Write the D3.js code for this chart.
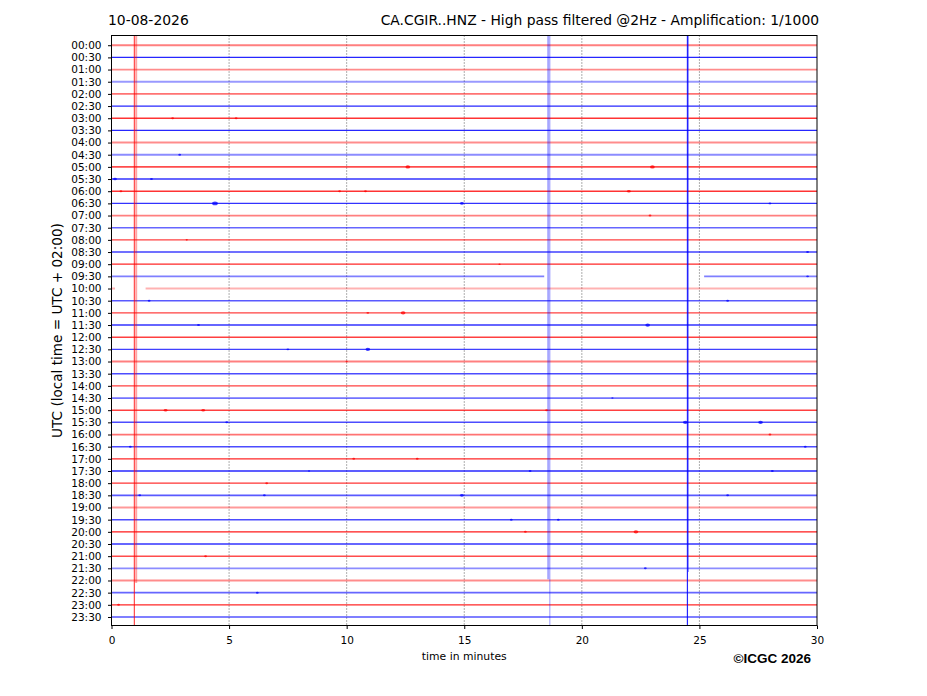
<!DOCTYPE html>
<html>
<head>
    <title>Helicorder CA.CGIR..HNZ</title>
    <script src="https://d3js.org/d3.v7.min.js"></script>
    <style>
        body {
            margin: 0;
            background: #fff;
        }
        svg text {
            font-family: "DejaVu Sans", sans-serif;
            fill: #000;
        }
        .copy {
            font-family: "Liberation Sans", Arial, sans-serif !important;
            font-weight: bold;
        }
    </style>
</head>
<body>
    <div id="chart"></div>

    <script>
        // Row labels (UTC start of each 30 min trace)
        const rowLabels = [
            "00:00", "00:30", "01:00", "01:30", "02:00", "02:30", "03:00", "03:30",
            "04:00", "04:30", "05:00", "05:30", "06:00", "06:30", "07:00", "07:30",
            "08:00", "08:30", "09:00", "09:30", "10:00", "10:30", "11:00", "11:30",
            "12:00", "12:30", "13:00", "13:30", "14:00", "14:30", "15:00", "15:30",
            "16:00", "16:30", "17:00", "17:30", "18:00", "18:30", "19:00", "19:30",
            "20:00", "20:30", "21:00", "21:30", "22:00", "22:30", "23:00", "23:30"
        ];

        // How strong each trace looks (noise level)
        const rowStrength = [
            0.5, 0.85, 0.45, 0.4, 0.55, 0.85, 0.8, 0.85,
            0.45, 0.45, 0.7, 0.8, 0.8, 0.8, 0.5, 0.6,
            0.75, 0.75, 0.85, 0.5, 0.3, 0.65, 0.75, 0.8,
            0.75, 0.75, 0.5, 0.7, 0.75, 0.55, 0.75, 0.7,
            0.55, 0.7, 0.85, 0.85, 0.8, 0.65, 0.4, 0.7,
            0.9, 0.8, 0.7, 0.45, 0.45, 0.6, 0.85, 0.5
        ];

        // Data gaps: [row, from minute, to minute]
        const gaps = [
            [19, 18.4, 25.2],
            [20, 0.15, 1.45]
        ];

        // Small events on traces: [row, minute, size]
        const events = [
            [6, 2.6, 1.5], [6, 5.3, 1.5],
            [9, 2.9, 1.5],
            [10, 12.6, 2.5], [10, 23.0, 2.5],
            [11, 0.15, 2], [11, 1.7, 1.5],
            [12, 0.4, 1.5], [12, 9.7, 1.5], [12, 10.8, 1.5], [12, 22.0, 2],
            [13, 4.4, 3], [13, 14.9, 2], [13, 28.0, 1.5],
            [14, 22.9, 1.5],
            [16, 3.2, 1.2],
            [17, 29.6, 1.5],
            [18, 16.5, 1.2],
            [19, 29.6, 1.5],
            [21, 1.6, 1.5], [21, 26.2, 1.5],
            [22, 10.9, 1.5], [22, 12.4, 2.5],
            [23, 3.7, 1.5], [23, 22.8, 2.5],
            [25, 7.5, 1.5], [25, 10.9, 2.5],
            [26, 10.0, 1.2],
            [29, 21.3, 1.2],
            [30, 2.3, 2], [30, 3.9, 2], [30, 18.5, 1.5],
            [31, 4.9, 1.5], [31, 24.4, 2.5], [31, 27.6, 2.5],
            [32, 28.0, 1.5],
            [33, 0.8, 1.5], [33, 29.5, 1.5],
            [34, 10.3, 1.5], [34, 13.0, 1.5],
            [35, 8.4, 1.2], [35, 17.8, 1.5], [35, 28.1, 1.5],
            [36, 6.6, 1.5],
            [37, 1.2, 1.5], [37, 6.5, 1.5], [37, 14.9, 2], [37, 26.2, 1.5],
            [39, 17.0, 1.5], [39, 19.0, 1.5],
            [40, 17.6, 1.5], [40, 22.3, 2.5],
            [42, 4.0, 1.5],
            [43, 22.7, 1.5],
            [45, 6.2, 1.5],
            [46, 0.3, 1.5]
        ];

        // Large events that swing across many traces:
        // [minute, colour index, from row, to row, width, opacity]
        const bigSwings = [
            [0.97, 0, -0.8, 47.7, 1, 0.85],
            [1.05, 0, -0.8, 44.2, 2, 0.35],
            [18.57, 1, -0.8, 43.9, 2, 0.35],
            [18.64, 1, -0.8, 47.7, 0.9, 0.45],
            [24.49, 1, -0.8, 47.7, 1.2, 0.85],
            [24.53, 1, -0.8, 43.3, 1, 0.45]
        ];

        const xTicks = [0, 5, 10, 15, 20, 25, 30];
        const gridMinutes = [5, 10, 15, 20, 25];
        const colours = ["#ff0000", "#0000ff"];

        const width = 927, height = 696;
        const margin = {left: 111.5, right: 110, top: 35.5, bottom: 70.5};

        const svg = d3.select("#chart")
            .append("svg")
            .attr("width", width)
            .attr("height", height);

        const x = d3.scaleLinear()
            .domain([0, 30])
            .range([margin.left, width - margin.right]);

        const y = d3.scaleLinear()
            .domain([-0.8, 47.7])
            .range([margin.top, height - margin.bottom]);

        const plot = svg.append("g");

        // clip to axes
        svg.append("defs").append("clipPath").attr("id", "clip")
            .append("rect")
            .attr("x", x(0)).attr("y", y(-0.8))
            .attr("width", x(30) - x(0)).attr("height", y(47.7) - y(-0.8));
        plot.attr("clip-path", "url(#clip)");

        // grid
        plot.selectAll(".grid")
            .data(gridMinutes)
            .join("line")
            .attr("x1", d => x(d)).attr("x2", d => x(d))
            .attr("y1", y(-0.8)).attr("y2", y(47.7))
            .attr("stroke", "#333")
            .attr("stroke-width", 0.8)
            .attr("stroke-dasharray", "1,2");

        // trace segments: whole half hour minus gaps
        const segments = [];
        rowLabels.forEach((lab, i) => {
            let start = 0;
            gaps.filter(g => g[0] === i).forEach(g => {
                segments.push({row: i, a: start, b: g[1]});
                start = g[2];
            });
            segments.push({row: i, a: start, b: 30});
        });

        plot.selectAll(".trace")
            .data(segments)
            .join("line")
            .attr("x1", d => x(d.a)).attr("x2", d => x(d.b))
            .attr("y1", d => y(d.row)).attr("y2", d => y(d.row))
            .attr("stroke", d => colours[d.row % 2])
            .attr("stroke-opacity", d => rowStrength[d.row])
            .attr("stroke-width", d => 1.1 + (1 - rowStrength[d.row]) * 1.4);

        // small events
        plot.selectAll(".event")
            .data(events)
            .join("ellipse")
            .attr("cx", d => x(d[1]))
            .attr("cy", d => y(d[0]))
            .attr("rx", d => d[2] * 0.95)
            .attr("ry", d => d[2] * 0.65)
            .attr("fill", d => colours[d[0] % 2])
            .attr("fill-opacity", 0.75);

        // big swings
        plot.selectAll(".swing")
            .data(bigSwings)
            .join("line")
            .attr("x1", d => x(d[0])).attr("x2", d => x(d[0]))
            .attr("y1", d => y(d[2])).attr("y2", d => y(d[3]))
            .attr("stroke", d => colours[d[1]])
            .attr("stroke-width", d => d[4])
            .attr("stroke-opacity", d => d[5]);

        // frame
        svg.append("rect")
            .attr("x", x(0)).attr("y", y(-0.8))
            .attr("width", x(30) - x(0)).attr("height", y(47.7) - y(-0.8))
            .attr("fill", "none")
            .attr("stroke", "#000")
            .attr("stroke-width", 1);

        // axes
        const xAxis = svg.append("g")
            .attr("transform", `translate(0,${y(47.7)})`)
            .call(d3.axisBottom(x).tickValues(xTicks).tickSize(3.5).tickPadding(8).tickFormat(d3.format("d")));
        xAxis.select(".domain").remove();
        xAxis.selectAll("text").attr("font-size", 10.5).style("font-family", "DejaVu Sans");

        const yAxis = svg.append("g")
            .attr("transform", `translate(${x(0)},0)`)
            .call(d3.axisLeft(y).tickValues(d3.range(rowLabels.length))
                .tickFormat(i => rowLabels[i]).tickSize(3.5).tickPadding(6.5));
        yAxis.select(".domain").remove();
        yAxis.selectAll("text").attr("font-size", 10.5).style("font-family", "DejaVu Sans");

        // titles
        svg.append("text")
            .attr("x", 108).attr("y", 25)
            .attr("font-size", 13.9)
            .text("10-08-2026");

        svg.append("text")
            .attr("x", 819).attr("y", 25)
            .attr("text-anchor", "end")
            .attr("font-size", 13.85)
            .text("CA.CGIR..HNZ - High pass filtered @2Hz - Amplification: 1/1000");

        svg.append("text")
            .attr("transform", `translate(62,${(y(-0.8) + y(47.7)) / 2}) rotate(-90)`)
            .attr("text-anchor", "middle")
            .attr("font-size", 13.6)
            .text("UTC (local time = UTC + 02:00)");

        svg.append("text")
            .attr("x", (x(0) + x(30)) / 2).attr("y", 660)
            .attr("text-anchor", "middle")
            .attr("font-size", 10.8)
            .text("time in minutes");

        svg.append("text")
            .attr("class", "copy")
            .attr("x", 811).attr("y", 663)
            .attr("text-anchor", "end")
            .attr("font-size", 13.5)
            .text("©ICGC 2026");
    </script>
</body>
</html>
